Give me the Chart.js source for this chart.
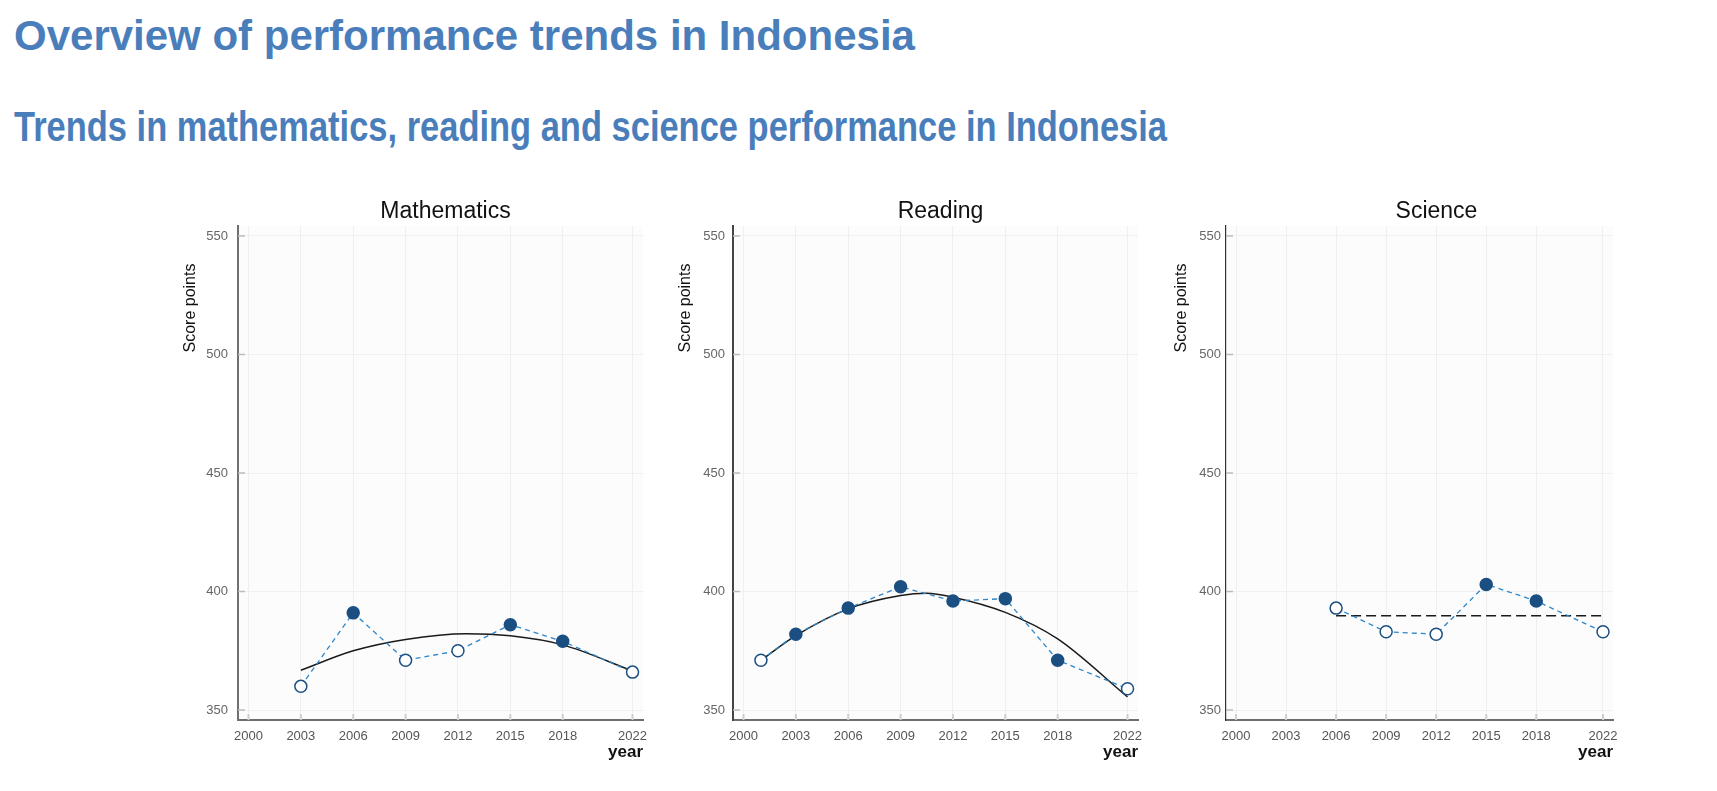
<!DOCTYPE html>
<html>
<head>
<meta charset="utf-8">
<script src="https://cdn.jsdelivr.net/npm/chart.js@4.4.1/dist/chart.umd.min.js"></script>
<style>
  html, body { margin: 0; padding: 0; background: #fff; }
  body { width: 1717px; height: 791px; position: relative; overflow: hidden; }
  .head { position: absolute; left: 14px; font: bold 42px/42px 'Liberation Sans', Arial, sans-serif; color: #4a7ebb; white-space: nowrap; transform-origin: 0 0; }
  .narrow { font-family: 'Liberation Sans Narrow', 'Liberation Sans', Arial, sans-serif; }
  .panel { position: absolute; top: 170px; height: 621px; }
</style>
</head>
<body>
<div class="head" id="t1" style="top:15px">Overview of performance trends in Indonesia</div>
<div class="head narrow" id="t2" style="top:106px">Trends in mathematics, reading and science performance in Indonesia</div>

<div class="panel" style="left:150px;width:510px"><canvas id="math"></canvas></div>
<div class="panel" style="left:660px;width:500px"><canvas id="reading"></canvas></div>
<div class="panel" style="left:1160px;width:557px"><canvas id="science"></canvas></div>

<script>
// tick labels
const xTicks = [2000, 2003, 2006, 2009, 2012, 2015, 2018, 2022];
const yTicks = [350, 400, 450, 500, 550];

// Mathematics
const mathYears = [2003, 2006, 2009, 2012, 2015, 2018, 2022];
const mathScores = [360, 391, 371, 375, 386, 379, 366];
const mathFilled = [false, true, false, false, true, true, false];
const mathTrendYears = [2003, 2006, 2009, 2012.5, 2015, 2018, 2022];
const mathTrend = [366.8, 375, 379.8, 382.2, 381.3, 377.5, 366.5];

// Reading
const readYears = [2001, 2003, 2006, 2009, 2012, 2015, 2018, 2022];
const readScores = [371, 382, 393, 402, 396, 397, 371, 359];
const readFilled = [false, true, true, true, true, true, true, false];
const readTrendYears = [2001, 2003, 2006, 2009, 2010.5, 2012, 2015, 2018, 2022];
const readTrend = [371, 381.4, 392.7, 398.3, 399.3, 397.6, 391.2, 380, 355.5];

// Science
const sciYears = [2006, 2009, 2012, 2015, 2018, 2022];
const sciScores = [393, 383, 382, 403, 396, 383];
const sciFilled = [false, false, false, true, true, false];
const sciTrendYears = [2006, 2022];
const sciTrend = [389.8, 389.8];

// fit the condensed subtitle to its width in the reference
function fitSubtitle() {
    const t2 = document.getElementById('t2');
    t2.style.transform = 'none';
    t2.style.transform = 'scaleX(' + (1153 / t2.getBoundingClientRect().width) + ')';
}
fitSubtitle();
if (document.fonts && document.fonts.ready) document.fonts.ready.then(fitSubtitle);

Chart.defaults.font.family = "'Liberation Sans', Arial, sans-serif";

const NAVY = '#1b4f82';

const decor = {
    id: 'decor',
    beforeDraw(chart, args, o) {
        const {ctx, chartArea: a} = chart;
        ctx.save();
        ctx.fillStyle = '#fcfcfc';
        ctx.fillRect(a.left, a.top, a.right - a.left, a.bottom - a.top);
        ctx.restore();
    },
    beforeDatasetsDraw(chart, args, o) {
        const {ctx, chartArea: a, scales} = chart;
        ctx.save();
        ctx.strokeStyle = '#cfcfcf';
        ctx.lineWidth = 2;
        xTicks.forEach(v => {
            const px = scales.x.getPixelForValue(v);
            ctx.beginPath(); ctx.moveTo(px, a.bottom); ctx.lineTo(px, a.bottom - 6); ctx.stroke();
        });
        ctx.strokeStyle = '#bbbbbb';
        ctx.lineWidth = 1.5;
        yTicks.forEach(v => {
            const py = scales.y.getPixelForValue(v);
            ctx.beginPath(); ctx.moveTo(a.left, py); ctx.lineTo(a.left + 7, py); ctx.stroke();
        });
        ctx.restore();
    },
    afterDraw(chart, args, o) {
        const {ctx, chartArea: a} = chart;
        ctx.save();
        ctx.fillStyle = '#111';
        ctx.textAlign = 'center';
        ctx.textBaseline = 'alphabetic';
        ctx.font = "23px 'Liberation Sans', Arial, sans-serif";
        ctx.fillText(o.title, (a.left + a.right) / 2 + o.titleDx, a.top - 8.5);
        ctx.translate(a.left - o.labelGap, a.top + 82);
        ctx.rotate(-Math.PI / 2);
        ctx.textBaseline = 'middle';
        ctx.font = "16px 'Liberation Sans', Arial, sans-serif";
        ctx.fillText('Score points', 0, 0);
        ctx.restore();
    }
};

function panel(id, cfg) {
    const pts = cfg.years.map((x, i) => ({x: x, y: cfg.scores[i]}));
    const trend = cfg.trendYears.map((x, i) => ({x: x, y: cfg.trend[i]}));
    new Chart(document.getElementById(id), {
        type: 'line',
        data: {
            datasets: [{
                data: pts,
                borderColor: '#2e86c8',
                borderWidth: 1.3,
                borderDash: [5, 4],
                pointRadius: 6,
                pointHoverRadius: 6,
                pointBorderWidth: 1.5,
                pointBorderColor: NAVY,
                pointBackgroundColor: cfg.filled.map(f => f ? NAVY : '#ffffff'),
                tension: 0
            }, {
                data: trend,
                borderColor: '#1a1a1a',
                borderWidth: 1.5,
                borderDash: cfg.trendDash,
                pointRadius: 0,
                cubicInterpolationMode: 'monotone'
            }]
        },
        options: {
            responsive: true,
            maintainAspectRatio: false,
            animation: false,
            events: [],
            layout: {padding: {top: 56, left: 0, right: cfg.padRight, bottom: 0}},
            plugins: {
                legend: {display: false},
                title: {display: false},
                tooltip: {enabled: false},
                decor: {title: cfg.title, titleDx: cfg.titleDx, labelGap: cfg.labelGap}
            },
            scales: {
                x: {
                    type: 'linear',
                    min: 1999.4,
                    max: 2022.6,
                    afterBuildTicks: s => { s.ticks = xTicks.map(v => ({value: v})); },
                    afterFit: s => { s.height = 71; },
                    ticks: {
                        callback: v => String(v),
                        color: '#555',
                        font: {size: 13},
                        padding: 9,
                        maxRotation: 0,
                        autoSkip: false
                    },
                    grid: {color: '#efefef', drawTicks: false},
                    border: {color: '#6e6e6e', width: 2},
                    title: {
                        display: true,
                        text: 'year',
                        align: 'end',
                        color: '#111',
                        font: {size: 17, weight: 'bold'},
                        padding: {top: 0, bottom: 28}
                    }
                },
                y: {
                    min: 345.8,
                    max: 554.2,
                    afterBuildTicks: s => { s.ticks = yTicks.map(v => ({value: v})); },
                    afterFit: s => { s.width = cfg.yWidth; },
                    ticks: {color: '#666', font: {size: 13}, padding: cfg.yPad},
                    grid: {color: '#f0f0f0', drawTicks: false},
                    border: {color: cfg.axisColor, width: cfg.axisWidth}
                }
            }
        },
        plugins: [decor]
    });
}

panel('math', {
    title: 'Mathematics', titleDx: 5, labelGap: 47,
    years: mathYears, scores: mathScores, filled: mathFilled,
    trendYears: mathTrendYears, trend: mathTrend, trendDash: [],
    yWidth: 88, padRight: 17, yPad: 10, axisColor: '#707070', axisWidth: 2
});
panel('reading', {
    title: 'Reading', titleDx: 5, labelGap: 47,
    years: readYears, scores: readScores, filled: readFilled,
    trendYears: readTrendYears, trend: readTrend, trendDash: [],
    yWidth: 73, padRight: 22, yPad: 8, axisColor: '#444444', axisWidth: 2
});
panel('science', {
    title: 'Science', titleDx: 17, labelGap: 44,
    years: sciYears, scores: sciScores, filled: sciFilled,
    trendYears: sciTrendYears, trend: sciTrend, trendDash: [10, 5],
    yWidth: 66, padRight: 104, yPad: 5, axisColor: '#333333', axisWidth: 1.2
});
</script>
</body>
</html>
